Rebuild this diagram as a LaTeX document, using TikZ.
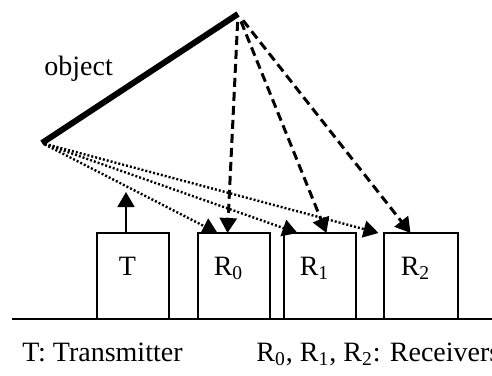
\documentclass[tikz,border=0pt]{standalone}
\usepackage{fontspec}
\setmainfont{Liberation Serif}
\usetikzlibrary{arrows.meta,positioning}

\begin{document}
\begin{tikzpicture}[
    x=0.5pt, y=-0.5pt,
    font=\fontsize{14}{16}\selectfont,
    box/.style={draw, line width=1pt, outer sep=0pt, minimum width=36pt, minimum height=43pt, inner sep=0pt, text height=9.2pt, text depth=10.2pt, execute at end node=\hspace*{5pt}},
    arrow/.style={-{Triangle[length=7.5pt,width=8.5pt]}, line width=0.9pt},
    echo/.style={arrow, line width=1.5pt, dash pattern=on 4.5pt off 2.5pt},
    direct/.style={arrow, line width=1.2pt, dash pattern=on 1pt off 1pt}
]
\clip (0,0) rectangle (492,375);
% object and ground
\coordinate (objA) at (42,143);
\coordinate (objB) at (238,14);
\coordinate (gl) at (12,319);
\coordinate (gr) at (492,319);
\coordinate (ping) at (126,192);
\draw[line width=3pt] (objA) -- (objB);
\node[anchor=base west, inner sep=0pt] (objlabel) at (44,75) {object};
% transmitter and receivers
\node[box] (T) at (132.5,276) {T};
\node[box, right=14.5pt of T] (R0) {R\textsubscript{0}};
\node[box, right=7pt of R0] (R1) {R\textsubscript{1}};
\node[box, right=14pt of R1, minimum width=37pt] (R2) {R\textsubscript{2}};
\draw[line width=1pt] (gl) -- (gr);
\draw[arrow] ([xshift=-3.25pt]T.north) -- (ping);
% paths via the far end of the object
\draw[echo, shorten <=4pt] (objB) -- ([xshift=-3pt]R0.north);
\draw[echo, shorten <=4pt] (objB) -- ([xshift=3.5pt]R1.north);
\draw[echo, shorten <=4pt] (objB) -- ([xshift=-5pt]R2.north);
% paths via the near end of the object
\draw[direct, shorten <=1.5pt] (objA) -- ([xshift=-8pt]R0.north);
\draw[direct, shorten <=1.5pt] (objA) -- ([xshift=-11pt]R1.north);
\draw[direct, shorten <=1.5pt] (objA) -- ([xshift=-2.5pt]R2.north west);
% legend
\node[anchor=base west, inner sep=0pt] (tlegend) at (22,361) {T: Transmitter};
\node[anchor=base west, inner sep=0pt] (rlegend) at (256,361) {R\textsubscript{0}, R\textsubscript{1}, R\textsubscript{2}: Receivers};
\end{tikzpicture}
\end{document}
